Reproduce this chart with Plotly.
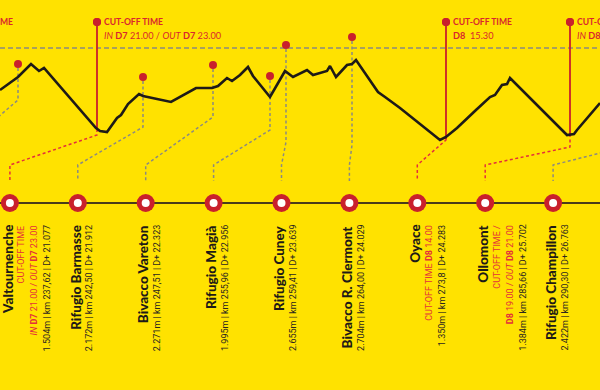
import plotly.graph_objects as go

# ---------------- data ----------------
# stylised elevation profile (distance along the strip, height on screen scale)
profile_x = [0, 18, 31, 39, 44, 96, 100, 107, 117, 121, 128, 139, 143, 171, 196, 205, 212, 218, 227,
             232, 240, 248, 253, 270, 285, 293, 307, 313, 327, 330, 336, 347, 352, 356, 378, 385,
             400, 440, 446, 457, 470, 476, 490, 495, 502, 507, 510, 567, 574, 577, 600]
profile_y = [90, 77, 64, 71, 68, 128, 131, 132, 118, 115, 104, 94, 96, 102, 88, 88, 88, 86, 78,
             81, 75, 67, 76, 97, 71, 77, 70, 75, 71, 66, 77, 65, 64, 60, 92, 97,
             108, 140, 137, 128, 115, 110, 97, 95, 85, 84, 78, 135, 134, 130, 103]

stops = ["", "Valtournenche", "Rifugio Barmasse", "Bivacco Vareton", "Rifugio Magià", "Rifugio Cuney",
         "Bivacco R. Clermont", "Oyace", "Ollomont", "Rifugio Champillon"]
stop_info = ["",
             "1.504m | km 237,62 | D+ 21.077",
             "2.172m | km 242,50 | D+ 21.912",
             "2.271m | km 247,51 | D+ 22.323",
             "1.995m | km 255,96 | D+ 22.956",
             "2.655m | km 259,41 | D+ 23.639",
             "2.704m | km 264,00 | D+ 24.029",
             "1.350m | km 273,8 | D+ 24.283",
             "1.384m | km 285,66 | D+ 25.702",
             "2.422m | km 290,30 | D+ 26.763"]
stop_cutoff_lines = [[],
                     ["CUT-OFF TIME", "<i>IN</i> <b>D7</b> 21.00 / <i>OUT</i> <b>D7</b> 23.00"],
                     [], [], [], [], [],
                     ["CUT-OFF TIME <b>D8</b> 14.00"],
                     ["CUT-OFF TIME /", "<b>D8</b> 19.00 / <i>OUT</i> <b>D8</b> 21.00"],
                     []]
stop_is_cutoff = [False, True, False, False, False, False, False, True, True, False]
# where each stop sits on the profile, its marker height and the connector bend
stop_profile_x = [18, 97, 143, 213, 270, 286, 352, 446, 570, 640]
stop_marker_y = [64, 22, 77, 65, 76, 45, 37, 22, 22, 40]
stop_bend_y = [100, 135, 127, 117, 130, 142, 145, 140, 147, 143]

# cut-off banners at the top of the profile
banner_x = [-54, 97, 446, 570]
banner_title = ["CUT-OFF TIME", "CUT-OFF TIME", "CUT-OFF TIME", "CUT-OFF TIME"]
banner_detail = ["", "<i>IN</i> <b>D7</b> 21.00 / <i>OUT</i> <b>D7</b> 23.00",
                 "<b>D8</b>  15.30", "<i>IN</i> <b>D8</b> 19.00 / <i>OUT</i> <b>D8</b> 21.00"]
banner_low_y = [130, 129, 139, 134]

ref_level = 48          # dashed reference altitude line
node_row = 203          # station strip
# ------------------------------------------------------------

W, H = 600, 390
YELLOW = "#FFE200"
RED = "#C9202C"
RED_TXT = "#D9262E"
RED_LBL = "#E4303A"
DARK = "#1E1A17"
GREY = "#8C8A80"
STRIP = "#4A3C1A"

node_x0, node_step = -58, 67.9
node_x = [node_x0 + i * node_step for i in range(len(stops))]

fig = go.Figure()

# reference dashed line
fig.add_trace(go.Scatter(x=[0, W], y=[ref_level, ref_level], mode="lines",
                         line=dict(color=GREY, width=1.6, dash="5px,3px"), hoverinfo="skip"))

# connectors
for i in range(len(stops)):
    px, my, by, nx = stop_profile_x[i], stop_marker_y[i], stop_bend_y[i], node_x[i]
    if stop_is_cutoff[i]:
        ylow = banner_low_y[banner_x.index(px)] if px in banner_x else by - 8
        fig.add_trace(go.Scatter(x=[px, px], y=[my, ylow], mode="lines",
                                 line=dict(color=RED, width=1.8), hoverinfo="skip"))
        fig.add_trace(go.Scatter(x=[px, px, nx, nx], y=[ylow, by, 165, 181], mode="lines",
                                 line=dict(color=RED_LBL, width=1.5, dash="3px,2.5px"), hoverinfo="skip"))
    else:
        fig.add_trace(go.Scatter(x=[px, px, nx, nx], y=[my + 4, by, 165, 181], mode="lines",
                                 line=dict(color=GREY, width=1.5, dash="3px,2.5px"), hoverinfo="skip"))

# banner line for the off-screen left cut-off
fig.add_trace(go.Scatter(x=[banner_x[0], banner_x[0]], y=[22, banner_low_y[0]], mode="lines",
                         line=dict(color=RED, width=1.8), hoverinfo="skip"))

# profile
fig.add_trace(go.Scatter(x=profile_x, y=profile_y, mode="lines",
                         line=dict(color=DARK, width=2.6), hoverinfo="skip"))

# markers (summit dots + banner dots)
fig.add_trace(go.Scatter(x=stop_profile_x + banner_x, y=stop_marker_y + [22] * len(banner_x),
                         mode="markers", marker=dict(color=RED, size=8), hoverinfo="skip"))

# station strip
fig.add_trace(go.Scatter(x=[0, W], y=[node_row, node_row], mode="lines",
                         line=dict(color=STRIP, width=2.2), hoverinfo="skip"))
fig.add_trace(go.Scatter(x=node_x, y=[node_row] * len(node_x), mode="markers",
                         marker=dict(color=RED, size=18), hoverinfo="skip"))
fig.add_trace(go.Scatter(x=node_x, y=[node_row] * len(node_x), mode="markers",
                         marker=dict(color="white", size=8), hoverinfo="skip"))

ann = []
# banners
for bx, t, d in zip(banner_x, banner_title, banner_detail):
    if bx < 0:
        ann.append(dict(x=bx + 68, y=22, text="<b>" + t + "</b>", xanchor="right", yanchor="middle",
                        showarrow=False, borderpad=0,
                        font=dict(family="Lato", size=8.6, color=RED_TXT)))
        continue
    ann.append(dict(x=bx + 6, y=22, text="<b>" + t + "</b>", xanchor="left", yanchor="middle",
                    showarrow=False, borderpad=0, font=dict(family="Lato", size=8.6, color=RED_TXT)))
    if d:
        ann.append(dict(x=bx + 6, y=35, text=d, xanchor="left", yanchor="middle",
                        showarrow=False, borderpad=0, font=dict(family="Lato", size=9.2, color=RED_TXT)))

# rotated station labels
for i, name in enumerate(stops):
    if not name:
        continue
    cx = node_x[i] - 2.5
    ann.append(dict(x=cx, y=223, text=name, textangle=-90, xanchor="center",
                    yanchor="top", showarrow=False,
                    font=dict(family="Lato", size=13.5, color=DARK, weight=900)))
    lx = cx + 14
    for line in stop_cutoff_lines[i]:
        ann.append(dict(x=lx, y=223, text=line, textangle=-90, xanchor="center", yanchor="top",
                        showarrow=False, font=dict(family="Roboto", size=9, color=RED_LBL)))
        lx += 13
    ann.append(dict(x=lx, y=223, text=stop_info[i], textangle=-90, xanchor="center", yanchor="top",
                    showarrow=False, font=dict(family="Roboto", size=9, color="#2A2520")))

fig.update_layout(
    width=W, height=H, margin=dict(l=0, r=0, t=0, b=0),
    paper_bgcolor=YELLOW, plot_bgcolor=YELLOW, showlegend=False,
    xaxis=dict(range=[0, W], visible=False, fixedrange=True),
    yaxis=dict(range=[H, 0], visible=False, fixedrange=True),
    annotations=ann,
)
fig.write_html("out.html")
